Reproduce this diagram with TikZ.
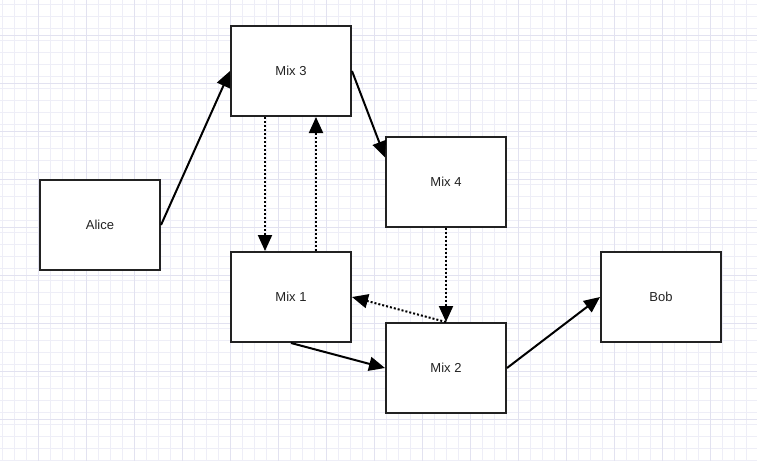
\documentclass[tikz,border=0pt]{standalone}
\usepackage{fontspec}
\setmainfont{Liberation Sans}
\usetikzlibrary{arrows.meta}
\definecolor{gridminor}{HTML}{EEEEF7}
\definecolor{gridmajor}{HTML}{E2E2F0}
\definecolor{ink}{HTML}{222222}
\begin{document}
\begin{tikzpicture}[x=1pt,y=-1pt,
  mixbox/.style={draw=ink,line width=2pt,fill=white,minimum width=120pt,minimum height=90pt,
    inner sep=0pt,font=\fontsize{13}{15}\selectfont,text=ink},
  link/.style={draw=black,line width=2pt,-{Triangle[length=16pt,width=14pt]}},
  dotlink/.style={link,dash pattern=on 2pt off 2pt}]
  % canvas and background grid
  \useasboundingbox (0,0) rectangle (757,461);
  \fill[white] (0,0) rectangle (757,461);
  \foreach \x in {2,14,...,757} \draw[gridminor,line width=0.8pt] (\x,0) -- (\x,461);
  \foreach \y in {4,16,...,461} \draw[gridminor,line width=0.8pt] (0,\y) -- (757,\y);
  \foreach \x in {38,86,...,757} \draw[gridmajor,line width=1pt] (\x,0) -- (\x,461);
  \foreach \y in {35,83,...,461} \draw[gridmajor,line width=1pt] (0,\y) -- (757,\y);

  % participants and mixes
  \node[mixbox] (alice) at (100,225) {Alice};
  \node[mixbox] (m3) at (291,71) {Mix 3};
  \node[mixbox] (m4) at (446,182) {Mix 4};
  \node[mixbox] (m1) at (291,297) {Mix 1};
  \node[mixbox] (m2) at (446,368) {Mix 2};
  \node[mixbox] (bob) at (661,297) {Bob};

  % solid message paths
  \draw[link] (alice.east) -- (m3.west);
  \draw[link] (m3.east) -- (m4.158);
  \draw[link] (m1.south) -- (m2.west);
  \draw[link] (m2.east) -- (bob.west);

  % dotted return paths
  \draw[dotlink] ([xshift=-26pt]m3.south) -- ([xshift=-26pt]m1.north);
  \draw[dotlink] ([xshift=25pt]m1.north) -- ([xshift=25pt]m3.south);
  \draw[dotlink] (m4.south) -- (m2.north);
  \draw[dotlink] (m2.north) -- (m1.east);
\end{tikzpicture}
\end{document}
